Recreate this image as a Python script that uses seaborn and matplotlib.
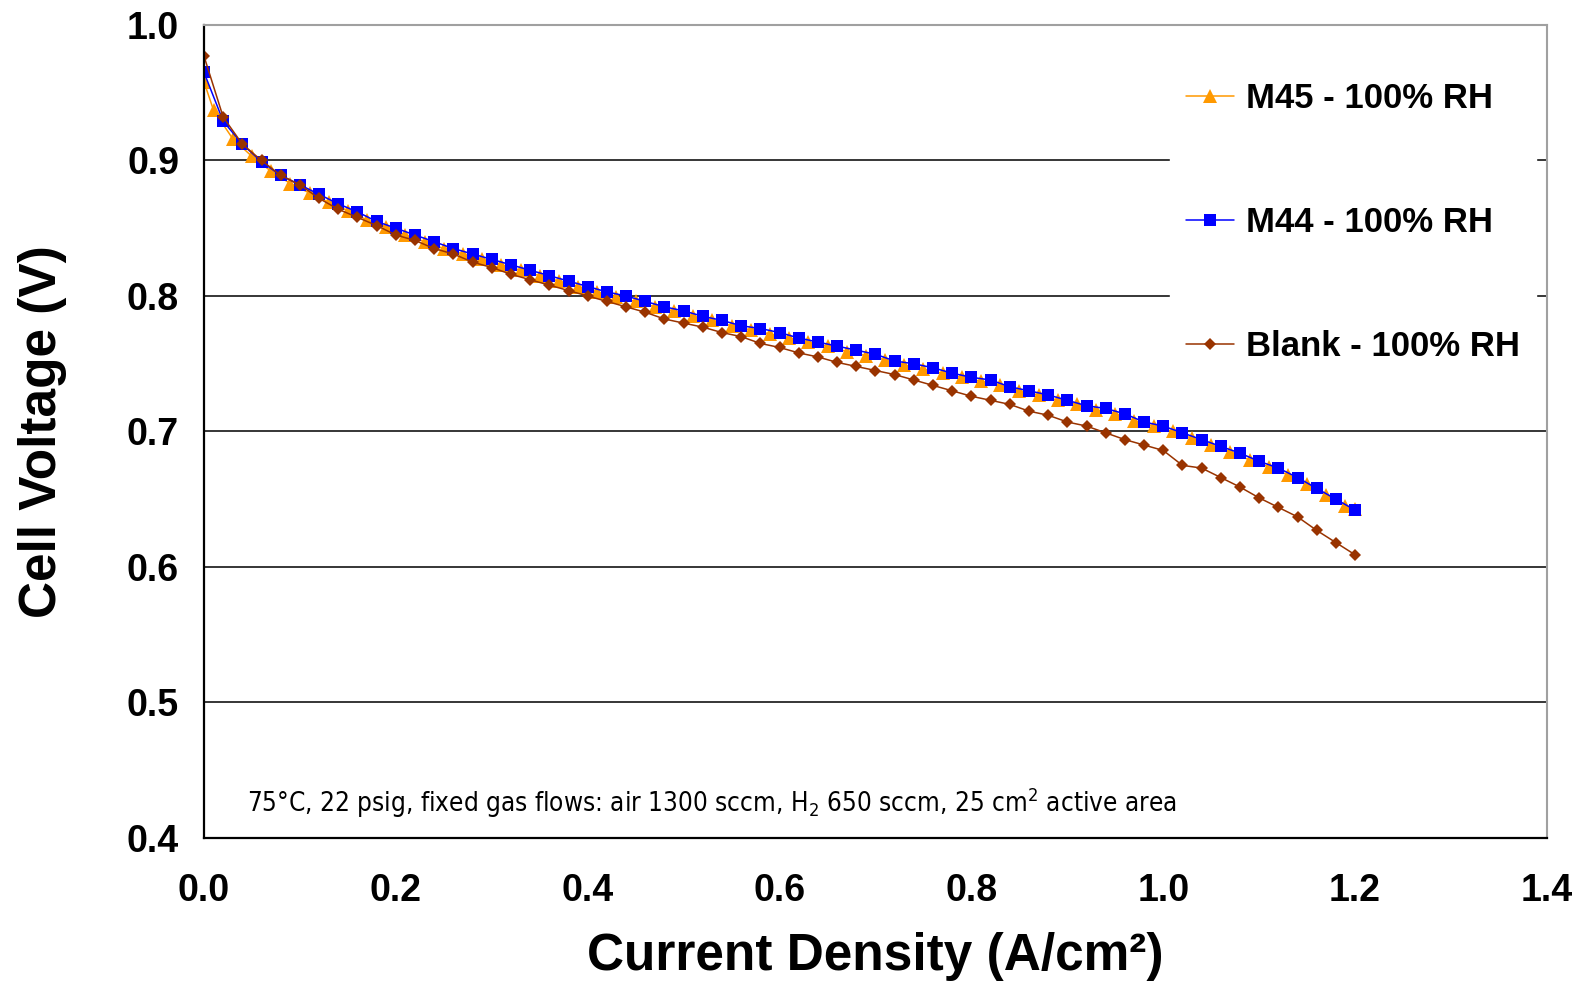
import pandas as pd
import matplotlib
matplotlib.use('Agg')
import matplotlib.pyplot as plt
import seaborn as sns

# --- data ---
x_m44 = [0.00, 0.02, 0.04, 0.06, 0.08, 0.10, 0.12, 0.14, 0.16, 0.18,
         0.20, 0.22, 0.24, 0.26, 0.28, 0.30, 0.32, 0.34, 0.36, 0.38,
         0.40, 0.42, 0.44, 0.46, 0.48, 0.50, 0.52, 0.54, 0.56, 0.58,
         0.60, 0.62, 0.64, 0.66, 0.68, 0.70, 0.72, 0.74, 0.76, 0.78,
         0.80, 0.82, 0.84, 0.86, 0.88, 0.90, 0.92, 0.94, 0.96, 0.98,
         1.00, 1.02, 1.04, 1.06, 1.08, 1.10, 1.12, 1.14, 1.16, 1.18, 1.20]
v_m44 = [0.965, 0.929, 0.912, 0.899, 0.889, 0.882, 0.875, 0.868, 0.862, 0.855,
         0.850, 0.845, 0.840, 0.835, 0.831, 0.827, 0.823, 0.819, 0.815, 0.811,
         0.807, 0.803, 0.800, 0.796, 0.792, 0.789, 0.785, 0.782, 0.778, 0.776,
         0.773, 0.769, 0.766, 0.763, 0.760, 0.757, 0.752, 0.750, 0.747, 0.743,
         0.740, 0.738, 0.733, 0.730, 0.727, 0.723, 0.719, 0.717, 0.713, 0.707,
         0.704, 0.699, 0.694, 0.689, 0.684, 0.678, 0.673, 0.666, 0.658, 0.650, 0.642]

x_blank = x_m44
v_blank = [0.977, 0.932, 0.912, 0.900, 0.889, 0.882, 0.872, 0.864, 0.858, 0.852,
           0.845, 0.841, 0.835, 0.831, 0.825, 0.821, 0.816, 0.812, 0.808, 0.804,
           0.800, 0.796, 0.792, 0.788, 0.783, 0.780, 0.777, 0.773, 0.770, 0.765,
           0.762, 0.758, 0.755, 0.751, 0.748, 0.745, 0.742, 0.738, 0.734, 0.730,
           0.726, 0.723, 0.720, 0.715, 0.712, 0.707, 0.704, 0.699, 0.694, 0.690,
           0.686, 0.675, 0.673, 0.666, 0.659, 0.651, 0.644, 0.637, 0.627, 0.618, 0.609]

x_m45 = [0.00, 0.01, 0.03, 0.05, 0.07, 0.09, 0.11, 0.13, 0.15, 0.17,
         0.19, 0.21, 0.23, 0.25, 0.27, 0.29, 0.31, 0.33, 0.35, 0.37,
         0.39, 0.41, 0.43, 0.45, 0.47, 0.49, 0.51, 0.53, 0.55, 0.57,
         0.59, 0.61, 0.63, 0.65, 0.67, 0.69, 0.71, 0.73, 0.75, 0.77,
         0.79, 0.81, 0.83, 0.85, 0.87, 0.89, 0.91, 0.93, 0.95, 0.97,
         0.99, 1.01, 1.03, 1.05, 1.07, 1.09, 1.11, 1.13, 1.15, 1.17, 1.19, 1.20]
v_m45 = [0.958, 0.937, 0.916, 0.903, 0.892, 0.883, 0.876, 0.869, 0.863, 0.856,
         0.851, 0.845, 0.840, 0.835, 0.831, 0.827, 0.823, 0.819, 0.815, 0.811,
         0.807, 0.803, 0.799, 0.796, 0.792, 0.789, 0.785, 0.782, 0.778, 0.775,
         0.772, 0.769, 0.766, 0.763, 0.759, 0.756, 0.753, 0.749, 0.746, 0.743,
         0.740, 0.737, 0.734, 0.730, 0.727, 0.723, 0.720, 0.716, 0.713, 0.708,
         0.704, 0.700, 0.695, 0.690, 0.685, 0.679, 0.674, 0.668, 0.661, 0.653, 0.645, 0.643]

labels = ['M45 - 100% RH', 'M44 - 100% RH', 'Blank - 100% RH']
colors = ['#FF9900', '#0000FF', '#993300']
x_ticks = [0.0, 0.2, 0.4, 0.6, 0.8, 1.0, 1.2, 1.4]
y_ticks = [0.4, 0.5, 0.6, 0.7, 0.8, 0.9, 1.0]
note = ('75°C, 22 psig, fixed gas flows: air 1300 sccm, H$_\\mathrm{2}$ 650 sccm, '
        '25 cm$^\\mathrm{2}$ active area')

sns.set_style('white')
plt.rcParams['font.family'] = ['Liberation Sans', 'DejaVu Sans']
plt.rcParams['text.color'] = 'black'
plt.rcParams['axes.labelcolor'] = 'black'
plt.rcParams['xtick.color'] = 'black'
plt.rcParams['ytick.color'] = 'black'
plt.rcParams['mathtext.fontset'] = 'custom'
plt.rcParams['mathtext.rm'] = 'DejaVu Sans:stretch=condensed'

df = pd.concat([
    pd.DataFrame({'x': x_m45, 'v': v_m45, 'series': labels[0]}),
    pd.DataFrame({'x': x_m44, 'v': v_m44, 'series': labels[1]}),
    pd.DataFrame({'x': x_blank, 'v': v_blank, 'series': labels[2]}),
])

fig = plt.figure(figsize=(15.84, 9.84), dpi=100)
ax = fig.add_axes([0.1288, 0.1484, 0.8478, 0.8262])

markers = ['^', 's', 'D']
msizes = [10, 8.5, 6.5]
for lab, col, mk, ms in zip(labels, colors, markers, msizes):
    sns.lineplot(data=df[df['series'] == lab], x='x', y='v', ax=ax,
                 color=col, marker=mk, markersize=ms, markeredgewidth=0,
                 linewidth=1.1, label=lab, estimator=None, sort=False)

ax.set_xlim(0, 1.4)
ax.set_ylim(0.4, 1.0)
ax.set_xticks(x_ticks)
ax.set_yticks(y_ticks)
ax.set_xticklabels([f'{t:.1f}' for t in x_ticks])
ax.set_yticklabels([f'{t:.1f}' for t in y_ticks])
ax.tick_params(axis='both', direction='out', length=10, width=1.5,
               labelsize=27, color='black', labelcolor='black')
ax.tick_params(axis='x', pad=15)
ax.tick_params(axis='y', pad=8)
for lbl in ax.get_xticklabels() + ax.get_yticklabels():
    lbl.set_fontweight('bold')

ax.yaxis.grid(True, color='black', linewidth=1.1)
ax.xaxis.grid(False)
ax.set_axisbelow(True)

for side in ['left', 'bottom']:
    ax.spines[side].set_color('black')
    ax.spines[side].set_linewidth(1.6)
for side in ['top', 'right']:
    ax.spines[side].set_color('#A0A0A0')
    ax.spines[side].set_linewidth(1.5)

ax.set_xlabel('Current Density (A/cm²)', fontsize=37, fontweight='bold', labelpad=17)
ax.set_ylabel('Cell Voltage (V)', fontsize=37, fontweight='bold', labelpad=43)

ax.text(0.045, 0.419, note, fontsize=18.7, va='baseline',
        family='DejaVu Sans', fontstretch='condensed')

leg = ax.legend(loc='upper left', bbox_to_anchor=(1.007, 0.9695),
                bbox_transform=ax.transData, frameon=True, fancybox=False,
                facecolor='white', edgecolor='white', framealpha=1,
                prop={'size': 25, 'weight': 'bold'}, labelspacing=2.62,
                handlelength=1.4, handletextpad=0.35, borderpad=0.45,
                borderaxespad=0)
leg.set_zorder(5)

plt.savefig('out.png', dpi=100)
plt.close()
